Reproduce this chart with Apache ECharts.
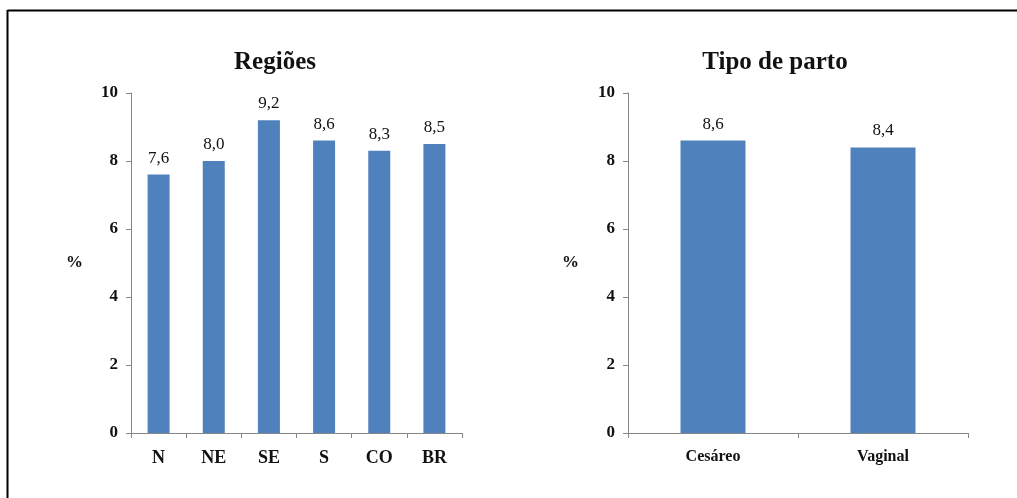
<!DOCTYPE html>
<html>
<head>
<meta charset="utf-8">
<script src="https://cdn.jsdelivr.net/npm/echarts@6/dist/echarts.min.js"></script>
<style>
html,body{margin:0;padding:0;background:#fff;}
#c{width:1017px;height:498px;}
</style>
</head>
<body>
<div id="c"></div>
<script>
const regionCats = ['N','NE','SE','S','CO','BR'];
const regionVals = [7.6, 8.0, 9.2, 8.6, 8.3, 8.5];
const partoCats = ['Cesáreo','Vaginal'];
const partoVals = [8.6, 8.4];
const yTicks = [0,2,4,6,8,10];

const FONT = '"Liberation Serif", "DejaVu Serif", serif';
const axisGray = '#868686';
const barColor = '#4F81BD';

function yAxis(idx, gap){
  return {
    gridIndex: idx, type:'value', min:0, max:10, interval:2,
    name:'%', nameLocation:'middle', nameRotate:0, nameGap:gap,
    nameTextStyle:{fontFamily:FONT, fontSize:17, fontWeight:'bold', color:'#111'},
    axisLine:{show:true, lineStyle:{color:axisGray}},
    axisTick:{show:true, length:5, lineStyle:{color:axisGray}},
    splitLine:{show:false},
    axisLabel:{fontFamily:FONT, fontSize:17, fontWeight:'bold', color:'#111', margin:13,
      formatter: v => yTicks.includes(v) ? String(v) : ''}
  };
}
function xAxis(idx, cats, fs){
  return {
    gridIndex: idx, type:'category', data: cats,
    axisLine:{show:true, lineStyle:{color:axisGray}},
    axisTick:{show:true, length:5, alignWithLabel:false, lineStyle:{color:axisGray}},
    axisLabel:{fontFamily:FONT, fontSize:fs, fontWeight:'bold', color:'#111', margin:16}
  };
}
const labelCfg = {
  show:true, position:'top', distance:8,
  fontFamily:FONT, fontSize:17, color:'#111',
  formatter: p => p.value.toFixed(1).replace('.', ',')
};

const chart = echarts.init(document.getElementById('c'), null, {renderer:'canvas'});
chart.setOption({
  backgroundColor:'#fff',
  animation:false,
  title:[
    {text:'Regiões', left:270, top:45, textAlign:'center',
     textStyle:{fontFamily:FONT, fontSize:25, fontWeight:'bold', color:'#111'}},
    {text:'Tipo de parto', left:770, top:45, textAlign:'center',
     textStyle:{fontFamily:FONT, fontSize:25, fontWeight:'bold', color:'#111'}}
  ],
  grid:[
    {left:131, right:555, top:93, bottom:65},
    {left:628, right:49, top:93, bottom:65}
  ],
  xAxis:[xAxis(0, regionCats, 18), xAxis(1, partoCats, 16)],
  yAxis:[yAxis(0, 48), yAxis(1, 49)],
  series:[
    {type:'bar', xAxisIndex:0, yAxisIndex:0, data:regionVals, barWidth:22,
     itemStyle:{color:barColor}, label:labelCfg},
    {type:'bar', xAxisIndex:1, yAxisIndex:1, data:partoVals, barWidth:65,
     itemStyle:{color:barColor}, label:labelCfg}
  ],
  graphic:[
    {type:'line', shape:{x1:7.5, y1:10.5, x2:1017, y2:10.5}, style:{stroke:'#000', lineWidth:2}},
    {type:'line', shape:{x1:7.5, y1:10, x2:7.5, y2:498}, style:{stroke:'#000', lineWidth:2}}
  ]
});
</script>
</body>
</html>
